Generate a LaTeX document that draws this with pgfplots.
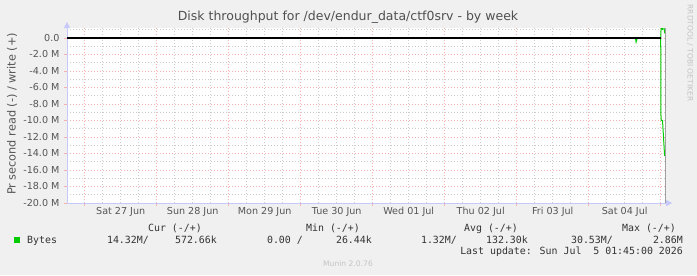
\documentclass[border=0pt]{standalone}
\usepackage{pgfplots}
\pgfplotsset{compat=1.18}
\usepackage{fontspec}
\setmainfont{DejaVu Sans}
\newfontfamily\mono{DejaVu Sans Mono}
\usetikzlibrary{arrows.meta}
\definecolor{bg}{HTML}{F0F0F0}
\definecolor{axisc}{RGB}{196,200,250}
\definecolor{mgrid}{RGB}{246,176,176}
\definecolor{ngrid}{RGB}{204,204,204}
\definecolor{titlec}{HTML}{505050}
\definecolor{tickc}{HTML}{555555}
\definecolor{legc}{HTML}{333333}
\definecolor{faint}{HTML}{C4C4C4}
\definecolor{grn}{HTML}{00CC00}
\definecolor{nowline}{HTML}{A0A0A0}
\begin{document}
\begin{tikzpicture}[x=1bp,y=1bp]
\fill[bg] (0,0) rectangle (697,275);
\useasboundingbox (0,0) rectangle (697,275);
\begin{axis}[
  at={(67bp,72bp)}, anchor=south west,
  scale only axis, width=599.1bp, height=174.9bp,
  xmin=-5.9, xmax=193.8, ymin=-20, ymax=1.2,
  axis background/.style={fill=white},
  axis lines=left,
  axis line style={draw=axisc, line width=0.8bp},
  x axis line style={-{Triangle[length=6bp,width=6bp]}, shorten >=-6bp},
  y axis line style={-{Triangle[length=6bp,width=6bp]}, shorten >=-6bp},
  xtick={0,24,...,192},
  xticklabels={,,,,,,,,,},
  extra x ticks={12,36,60,84,108,132,156,180},
  extra x tick labels={Sat 27 Jun,Sun 28 Jun,Mon 29 Jun,Tue 30 Jun,Wed 01 Jul,Thu 02 Jul,Fri 03 Jul,Sat 04 Jul},
  extra x tick style={grid=none, major tick length=0pt},
  minor xtick={6,18,30,42,54,66,78,90,102,114,126,138,150,162,174,186,12,36,60,84,108,132,156,180},
  ytick={-20,-18,...,0},
  yticklabels={-20.0 M,-18.0 M,-16.0 M,-14.0 M,-12.0 M,-10.0 M,-8.0 M,-6.0 M,-4.0 M,-2.0 M,0.0},
  minor ytick={-19,-17,...,1},
  grid=both,
  major grid style={draw=mgrid, line width=0.6bp, dash pattern=on 1bp off 2bp},
  minor grid style={draw=ngrid, line width=0.6bp, dash pattern=on 1bp off 2bp},
  tick align=outside,
  major tick length=3bp, minor tick length=0pt,
  tick style={draw=mgrid, line width=0.8bp},
  ticklabel style={font=\fontsize{9.6bp}{11bp}\selectfont, text=tickc},
  yticklabel style={xshift=-1bp},
  xticklabel style={yshift=-1bp},
  clip=true,
]
\addplot[grn, line width=1bp] coordinates {(183.4,0) (183.6,0) (183.8,-0.5) (184.2,0) (184.4,0)};
\addplot[grn, line width=1bp] coordinates {(191.6,0) (192.0,0) (192.1,-10.0) (192.6,-10.0) (193.3,-14.3)};
\addplot[grn, line width=1bp] coordinates {(191.6,0) (192.0,0) (192.3,2.86) (192.6,1.0) (192.9,2.0) (193.3,0.57)};
\addplot[black, line width=1.5bp] coordinates {(-5.9,0) (192.0,0)};
\addplot[nowline, line width=0.8bp] coordinates {(193.4,-20) (193.4,1.2)};
\end{axis}
\node[text=titlec, font=\fontsize{12.5bp}{14bp}\selectfont] at (348,257.5) {Disk throughput for /dev/endur\_data/ctf0srv - by week};
\node[text=tickc, rotate=90, font=\fontsize{11.3bp}{13bp}\selectfont] at (12,161) {Pr second read (-) / write (+)};
\node[text=faint, rotate=-90, font=\fontsize{7.5bp}{9bp}\selectfont] at (690,222) {RRDTOOL / TOBI OETIKER};
\node[text=faint, font=\fontsize{7.6bp}{9bp}\selectfont] at (348,11) {Munin 2.0.76};
\fill[grn] (14,32) rectangle (20,38);
\begin{scope}[every node/.style={text=legc, font=\mono\fontsize{9.9bp}{12bp}\selectfont, inner sep=0pt, anchor=base east}]
\node at (202,44) {Cur (-/+)};
\node at (360,44) {Min (-/+)};
\node at (518,44) {Avg (-/+)};
\node at (676,44) {Max (-/+)};
\node[anchor=base west] at (27,32) {Bytes};
\node at (149,32) {14.32M/};
\node at (217,32) {572.66k};
\node at (303,32) {0.00 /};
\node at (372,32) {26.44k};
\node at (457,32) {1.32M/};
\node at (528,32) {132.30k};
\node at (613,32) {30.53M/};
\node at (683,32) {2.86M};
\node at (683,21) {Last update: Sun Jul\ \ 5 01:45:00 2026};
\end{scope}
\end{tikzpicture}
\end{document}
